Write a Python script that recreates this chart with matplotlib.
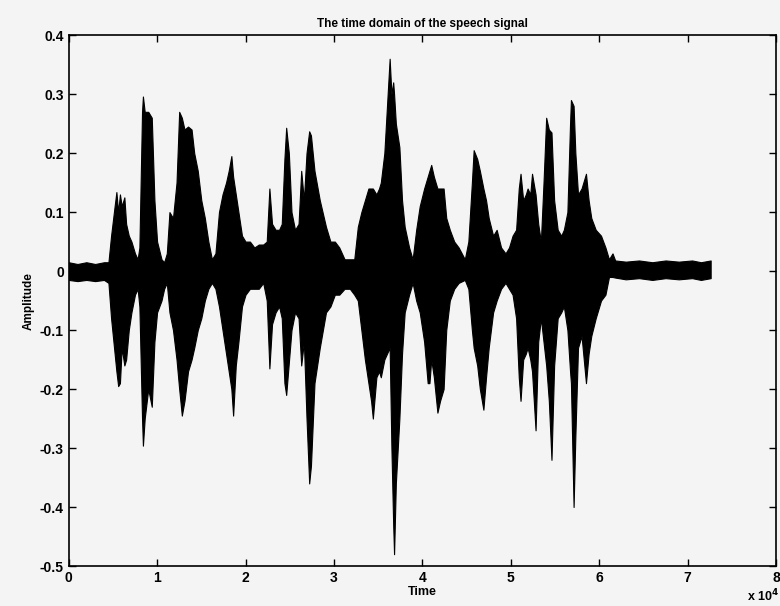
import numpy as np
import matplotlib.pyplot as plt

plt.rcParams['font.family'] = ['Liberation Sans', 'DejaVu Sans']
plt.rcParams['font.weight'] = 'bold'

# envelope of the recorded speech: sample index (x 10^4), max and min amplitude
t = [0.00, 0.10, 0.20, 0.30, 0.40, 0.45, 0.48, 0.52, 0.54, 0.56, 0.58, 0.60, 0.63, 0.65,
     0.68, 0.71, 0.75, 0.78, 0.80, 0.83, 0.84, 0.86, 0.90, 0.94, 0.97, 1.00, 1.05, 1.08,
     1.11, 1.14, 1.18, 1.22, 1.25, 1.28, 1.31, 1.35, 1.39, 1.42, 1.46, 1.50, 1.54, 1.58,
     1.62, 1.66, 1.70, 1.74, 1.78, 1.81, 1.84, 1.86, 1.89, 1.92, 1.96, 2.00, 2.05, 2.10,
     2.15, 2.20, 2.24, 2.27, 2.30, 2.34, 2.38, 2.41, 2.44, 2.46, 2.49, 2.52, 2.56, 2.60,
     2.63, 2.66, 2.69, 2.72, 2.74, 2.78, 2.84, 2.91, 2.96, 3.01, 3.06, 3.12, 3.18, 3.23,
     3.27, 3.31, 3.35, 3.39, 3.42, 3.44, 3.48, 3.51, 3.53, 3.57, 3.60, 3.63, 3.65, 3.67,
     3.68, 3.70, 3.74, 3.77, 3.80, 3.85, 3.89, 3.93, 3.97, 4.02, 4.06, 4.08, 4.10, 4.13,
     4.17, 4.20, 4.24, 4.27, 4.31, 4.36, 4.41, 4.48, 4.52, 4.56, 4.58, 4.62, 4.65, 4.69,
     4.72, 4.75, 4.80, 4.84, 4.89, 4.94, 4.98, 5.02, 5.06, 5.09, 5.11, 5.14, 5.17, 5.19,
     5.22, 5.24, 5.28, 5.31, 5.34, 5.37, 5.40, 5.43, 5.46, 5.49, 5.53, 5.57, 5.60, 5.64,
     5.67, 5.68, 5.71, 5.73, 5.76, 5.80, 5.85, 5.88, 5.91, 5.96, 6.02, 6.07, 6.11, 6.15,
     6.18, 6.30, 6.45, 6.60, 6.75, 6.90, 7.05, 7.15, 7.26]
upper = [0.015, 0.012, 0.015, 0.012, 0.015, 0.015, 0.06, 0.11, 0.134, 0.10, 0.13, 0.11, 0.125, 0.08,
         0.06, 0.05, 0.03, 0.02, 0.04, 0.27, 0.296, 0.27, 0.27, 0.26, 0.12, 0.05, 0.02, 0.015,
         0.03, 0.10, 0.09, 0.15, 0.27, 0.26, 0.24, 0.245, 0.24, 0.20, 0.17, 0.12, 0.09, 0.05,
         0.02, 0.03, 0.10, 0.13, 0.15, 0.17, 0.195, 0.16, 0.13, 0.10, 0.06, 0.05, 0.05, 0.04,
         0.045, 0.045, 0.05, 0.14, 0.08, 0.07, 0.07, 0.08, 0.19, 0.243, 0.20, 0.10, 0.07, 0.08,
         0.17, 0.12, 0.20, 0.237, 0.23, 0.17, 0.12, 0.075, 0.05, 0.05, 0.04, 0.02, 0.02, 0.02,
         0.075, 0.10, 0.12, 0.14, 0.14, 0.14, 0.13, 0.14, 0.15, 0.20, 0.28, 0.36, 0.30, 0.32,
         0.30, 0.25, 0.21, 0.12, 0.075, 0.04, 0.02, 0.07, 0.11, 0.14, 0.16, 0.17, 0.18, 0.16,
         0.14, 0.14, 0.14, 0.09, 0.07, 0.05, 0.04, 0.02, 0.05, 0.15, 0.205, 0.19, 0.17, 0.14,
         0.12, 0.09, 0.06, 0.07, 0.04, 0.03, 0.04, 0.06, 0.07, 0.14, 0.165, 0.12, 0.13, 0.14,
         0.13, 0.165, 0.13, 0.08, 0.05, 0.15, 0.26, 0.24, 0.235, 0.12, 0.07, 0.06, 0.07, 0.10,
         0.25, 0.29, 0.28, 0.20, 0.13, 0.14, 0.165, 0.12, 0.09, 0.07, 0.06, 0.04, 0.02, 0.03,
         0.018, 0.016, 0.018, 0.015, 0.018, 0.016, 0.018, 0.015, 0.018]
lower = [-0.015, -0.017, -0.015, -0.017, -0.015, -0.02, -0.08, -0.14, -0.17, -0.195, -0.19, -0.13, -0.16, -0.15,
         -0.10, -0.07, -0.04, -0.03, -0.06, -0.25, -0.296, -0.25, -0.20, -0.23, -0.12, -0.07, -0.05, -0.03,
         -0.02, -0.07, -0.10, -0.15, -0.20, -0.245, -0.22, -0.17, -0.15, -0.13, -0.10, -0.08, -0.05, -0.03,
         -0.02, -0.03, -0.06, -0.10, -0.14, -0.17, -0.20, -0.245, -0.16, -0.12, -0.06, -0.04, -0.03, -0.03,
         -0.03, -0.02, -0.05, -0.165, -0.09, -0.07, -0.06, -0.08, -0.19, -0.21, -0.155, -0.10, -0.07, -0.08,
         -0.16, -0.12, -0.25, -0.36, -0.33, -0.19, -0.13, -0.07, -0.06, -0.04, -0.04, -0.03, -0.03, -0.04,
         -0.05, -0.10, -0.15, -0.19, -0.22, -0.25, -0.18, -0.17, -0.18, -0.15, -0.14, -0.13, -0.30, -0.43,
         -0.48, -0.36, -0.25, -0.14, -0.07, -0.04, -0.02, -0.05, -0.07, -0.12, -0.19, -0.19, -0.15, -0.18,
         -0.24, -0.22, -0.20, -0.10, -0.05, -0.03, -0.02, -0.015, -0.03, -0.10, -0.13, -0.16, -0.20, -0.235,
         -0.18, -0.13, -0.07, -0.05, -0.03, -0.02, -0.03, -0.04, -0.08, -0.18, -0.22, -0.15, -0.14, -0.13,
         -0.15, -0.17, -0.27, -0.12, -0.08, -0.12, -0.16, -0.22, -0.32, -0.16, -0.08, -0.07, -0.06, -0.10,
         -0.17, -0.19, -0.40, -0.28, -0.13, -0.11, -0.19, -0.14, -0.11, -0.08, -0.05, -0.04, -0.01, -0.01,
         -0.011, -0.014, -0.012, -0.015, -0.012, -0.014, -0.012, -0.015, -0.012]

fig = plt.figure(figsize=(7.8, 6.06), dpi=100, facecolor='#f4f4f4')
ax = fig.add_axes([0.088, 0.066, 0.907, 0.876], facecolor='#f4f4f4')

ax.fill_between(t, lower, upper, color='black', lw=0.8, edgecolor='black')

ax.set_xlim(0, 8)
ax.set_ylim(-0.5, 0.4)
ax.set_xticks(range(9))
ax.set_yticks(np.arange(-0.5, 0.41, 0.1))
ax.set_yticklabels(['-0.5', '-0.4', '-0.3', '-0.2', '-0.1', '0', '0.1', '0.2', '0.3', '0.4'])
ax.tick_params(direction='in', top=True, right=True, length=5, width=1, labelsize=10)
for s in ax.spines.values():
    s.set_linewidth(1.2)

ax.set_title('The time domain of the speech signal', fontsize=8.5, fontweight='bold', pad=6)
ax.set_xlabel('Time', fontsize=9, fontweight='bold', labelpad=1)
ax.set_ylabel('Amplitude', fontsize=8.5, fontweight='bold', labelpad=4)
# exponent of the sample axis, tucked into the lower right corner
fig.text(0.999, 0.003, 'x 10$^4$', ha='right', va='bottom', fontsize=9, fontweight='bold')

fig.savefig('out.png', dpi=100, facecolor=fig.get_facecolor())
